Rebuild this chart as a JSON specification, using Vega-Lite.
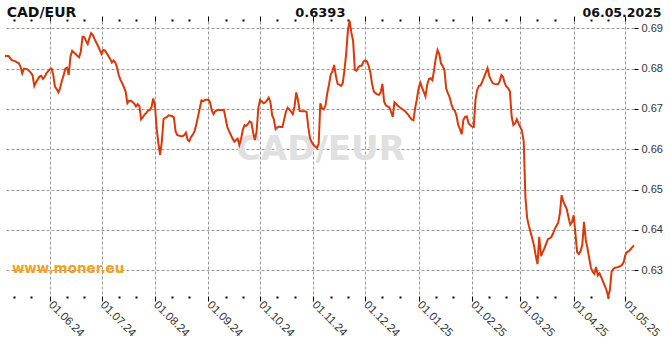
{
  "$schema": "https://vega.github.io/schema/vega-lite/v6.json",
  "width": 629,
  "height": 275,
  "autosize": {"type": "none"},
  "padding": {"left": 5, "top": 21, "right": 36, "bottom": 54},
  "background": "white",
  "config": {"view": {"stroke": null}, "font": "Liberation Sans"},
  "datasets": {
    "rates": [
      {"date": "2024-05-06", "rate": 0.6831}, {"date": "2024-05-08", "rate": 0.6831}, {"date": "2024-05-10", "rate": 0.6821}, {"date": "2024-05-12", "rate": 0.6818}, {"date": "2024-05-14", "rate": 0.6813}, {"date": "2024-05-15", "rate": 0.6805}, {"date": "2024-05-16", "rate": 0.6788}, {"date": "2024-05-17", "rate": 0.6800}, {"date": "2024-05-19", "rate": 0.6798}, {"date": "2024-05-21", "rate": 0.6790}, {"date": "2024-05-22", "rate": 0.6783}, {"date": "2024-05-23", "rate": 0.6757}, {"date": "2024-05-24", "rate": 0.6766}, {"date": "2024-05-26", "rate": 0.6780}, {"date": "2024-05-27", "rate": 0.6782}, {"date": "2024-05-28", "rate": 0.6774}, {"date": "2024-05-29", "rate": 0.6779}, {"date": "2024-05-30", "rate": 0.6788}, {"date": "2024-05-31", "rate": 0.6793},
      {"date": "2024-06-01", "rate": 0.6798}, {"date": "2024-06-02", "rate": 0.6800}, {"date": "2024-06-03", "rate": 0.6784}, {"date": "2024-06-04", "rate": 0.6755}, {"date": "2024-06-05", "rate": 0.6749}, {"date": "2024-06-06", "rate": 0.6741}, {"date": "2024-06-07", "rate": 0.6752}, {"date": "2024-06-08", "rate": 0.6770}, {"date": "2024-06-09", "rate": 0.6783}, {"date": "2024-06-10", "rate": 0.6800}, {"date": "2024-06-11", "rate": 0.6802}, {"date": "2024-06-12", "rate": 0.6784}, {"date": "2024-06-13", "rate": 0.6830}, {"date": "2024-06-14", "rate": 0.6844}, {"date": "2024-06-15", "rate": 0.6840}, {"date": "2024-06-16", "rate": 0.6836}, {"date": "2024-06-17", "rate": 0.6831}, {"date": "2024-06-18", "rate": 0.6828}, {"date": "2024-06-19", "rate": 0.6842}, {"date": "2024-06-20", "rate": 0.6879}, {"date": "2024-06-21", "rate": 0.6878}, {"date": "2024-06-22", "rate": 0.6869}, {"date": "2024-06-23", "rate": 0.6861}, {"date": "2024-06-24", "rate": 0.6876}, {"date": "2024-06-25", "rate": 0.6888}, {"date": "2024-06-26", "rate": 0.6883}, {"date": "2024-06-27", "rate": 0.6873}, {"date": "2024-06-28", "rate": 0.6864}, {"date": "2024-06-29", "rate": 0.6856}, {"date": "2024-06-30", "rate": 0.6846},
      {"date": "2024-07-01", "rate": 0.6836}, {"date": "2024-07-02", "rate": 0.6846}, {"date": "2024-07-03", "rate": 0.6845}, {"date": "2024-07-04", "rate": 0.6838}, {"date": "2024-07-05", "rate": 0.6831}, {"date": "2024-07-06", "rate": 0.6824}, {"date": "2024-07-07", "rate": 0.6815}, {"date": "2024-07-08", "rate": 0.6820}, {"date": "2024-07-09", "rate": 0.6815}, {"date": "2024-07-10", "rate": 0.6803}, {"date": "2024-07-11", "rate": 0.6784}, {"date": "2024-07-12", "rate": 0.6772}, {"date": "2024-07-13", "rate": 0.6764}, {"date": "2024-07-14", "rate": 0.6754}, {"date": "2024-07-15", "rate": 0.6743}, {"date": "2024-07-16", "rate": 0.6714}, {"date": "2024-07-17", "rate": 0.6720}, {"date": "2024-07-18", "rate": 0.6720}, {"date": "2024-07-19", "rate": 0.6717}, {"date": "2024-07-20", "rate": 0.6713}, {"date": "2024-07-21", "rate": 0.6706}, {"date": "2024-07-22", "rate": 0.6712}, {"date": "2024-07-23", "rate": 0.6707}, {"date": "2024-07-24", "rate": 0.6674}, {"date": "2024-07-25", "rate": 0.6679}, {"date": "2024-07-26", "rate": 0.6686}, {"date": "2024-07-27", "rate": 0.6690}, {"date": "2024-07-28", "rate": 0.6696}, {"date": "2024-07-29", "rate": 0.6697}, {"date": "2024-07-30", "rate": 0.6704}, {"date": "2024-07-31", "rate": 0.6726},
      {"date": "2024-08-01", "rate": 0.6710}, {"date": "2024-08-02", "rate": 0.6652}, {"date": "2024-08-03", "rate": 0.6615}, {"date": "2024-08-04", "rate": 0.6586}, {"date": "2024-08-05", "rate": 0.6619}, {"date": "2024-08-06", "rate": 0.6675}, {"date": "2024-08-07", "rate": 0.6678}, {"date": "2024-08-08", "rate": 0.6680}, {"date": "2024-08-09", "rate": 0.6684}, {"date": "2024-08-10", "rate": 0.6683}, {"date": "2024-08-11", "rate": 0.6682}, {"date": "2024-08-12", "rate": 0.6679}, {"date": "2024-08-13", "rate": 0.6644}, {"date": "2024-08-14", "rate": 0.6635}, {"date": "2024-08-15", "rate": 0.6634}, {"date": "2024-08-16", "rate": 0.6632}, {"date": "2024-08-17", "rate": 0.6632}, {"date": "2024-08-18", "rate": 0.6635}, {"date": "2024-08-19", "rate": 0.6641}, {"date": "2024-08-20", "rate": 0.6623}, {"date": "2024-08-21", "rate": 0.6620}, {"date": "2024-08-22", "rate": 0.6631}, {"date": "2024-08-23", "rate": 0.6636}, {"date": "2024-08-24", "rate": 0.6645}, {"date": "2024-08-25", "rate": 0.6661}, {"date": "2024-08-26", "rate": 0.6681}, {"date": "2024-08-27", "rate": 0.6701}, {"date": "2024-08-28", "rate": 0.6721}, {"date": "2024-08-29", "rate": 0.6719}, {"date": "2024-08-30", "rate": 0.6722}, {"date": "2024-08-31", "rate": 0.6723},
      {"date": "2024-09-01", "rate": 0.6723}, {"date": "2024-09-02", "rate": 0.6716}, {"date": "2024-09-03", "rate": 0.6696}, {"date": "2024-09-04", "rate": 0.6687}, {"date": "2024-09-05", "rate": 0.6694}, {"date": "2024-09-06", "rate": 0.6697}, {"date": "2024-09-07", "rate": 0.6698}, {"date": "2024-09-08", "rate": 0.6697}, {"date": "2024-09-09", "rate": 0.6697}, {"date": "2024-09-10", "rate": 0.6698}, {"date": "2024-09-11", "rate": 0.6677}, {"date": "2024-09-12", "rate": 0.6655}, {"date": "2024-09-13", "rate": 0.6645}, {"date": "2024-09-14", "rate": 0.6636}, {"date": "2024-09-15", "rate": 0.6627}, {"date": "2024-09-16", "rate": 0.6619}, {"date": "2024-09-17", "rate": 0.6623}, {"date": "2024-09-18", "rate": 0.6626}, {"date": "2024-09-19", "rate": 0.6611}, {"date": "2024-09-20", "rate": 0.6626}, {"date": "2024-09-21", "rate": 0.6648}, {"date": "2024-09-22", "rate": 0.6660}, {"date": "2024-09-23", "rate": 0.6658}, {"date": "2024-09-24", "rate": 0.6663}, {"date": "2024-09-25", "rate": 0.6669}, {"date": "2024-09-26", "rate": 0.6666}, {"date": "2024-09-27", "rate": 0.6641}, {"date": "2024-09-28", "rate": 0.6623}, {"date": "2024-09-29", "rate": 0.6644}, {"date": "2024-09-30", "rate": 0.6702},
      {"date": "2024-10-01", "rate": 0.6722}, {"date": "2024-10-02", "rate": 0.6719}, {"date": "2024-10-03", "rate": 0.6714}, {"date": "2024-10-04", "rate": 0.6716}, {"date": "2024-10-05", "rate": 0.6721}, {"date": "2024-10-06", "rate": 0.6728}, {"date": "2024-10-07", "rate": 0.6718}, {"date": "2024-10-08", "rate": 0.6685}, {"date": "2024-10-09", "rate": 0.6674}, {"date": "2024-10-10", "rate": 0.6650}, {"date": "2024-10-11", "rate": 0.6654}, {"date": "2024-10-12", "rate": 0.6656}, {"date": "2024-10-13", "rate": 0.6655}, {"date": "2024-10-14", "rate": 0.6655}, {"date": "2024-10-15", "rate": 0.6674}, {"date": "2024-10-16", "rate": 0.6693}, {"date": "2024-10-17", "rate": 0.6703}, {"date": "2024-10-18", "rate": 0.6699}, {"date": "2024-10-19", "rate": 0.6693}, {"date": "2024-10-20", "rate": 0.6687}, {"date": "2024-10-21", "rate": 0.6706}, {"date": "2024-10-22", "rate": 0.6741}, {"date": "2024-10-23", "rate": 0.6722}, {"date": "2024-10-24", "rate": 0.6695}, {"date": "2024-10-25", "rate": 0.6694}, {"date": "2024-10-26", "rate": 0.6694}, {"date": "2024-10-27", "rate": 0.6694}, {"date": "2024-10-28", "rate": 0.6693}, {"date": "2024-10-29", "rate": 0.6655}, {"date": "2024-10-30", "rate": 0.6627}, {"date": "2024-10-31", "rate": 0.6617},
      {"date": "2024-11-01", "rate": 0.6611}, {"date": "2024-11-02", "rate": 0.6607}, {"date": "2024-11-03", "rate": 0.6603}, {"date": "2024-11-04", "rate": 0.6613}, {"date": "2024-11-05", "rate": 0.6714}, {"date": "2024-11-06", "rate": 0.6701}, {"date": "2024-11-07", "rate": 0.6699}, {"date": "2024-11-08", "rate": 0.6709}, {"date": "2024-11-09", "rate": 0.6739}, {"date": "2024-11-10", "rate": 0.6760}, {"date": "2024-11-11", "rate": 0.6785}, {"date": "2024-11-12", "rate": 0.6793}, {"date": "2024-11-13", "rate": 0.6809}, {"date": "2024-11-14", "rate": 0.6782}, {"date": "2024-11-15", "rate": 0.6762}, {"date": "2024-11-16", "rate": 0.6760}, {"date": "2024-11-17", "rate": 0.6757}, {"date": "2024-11-18", "rate": 0.6764}, {"date": "2024-11-19", "rate": 0.6797}, {"date": "2024-11-20", "rate": 0.6838}, {"date": "2024-11-21", "rate": 0.6896}, {"date": "2024-11-22", "rate": 0.6918}, {"date": "2024-11-23", "rate": 0.6889}, {"date": "2024-11-24", "rate": 0.6869}, {"date": "2024-11-25", "rate": 0.6797}, {"date": "2024-11-26", "rate": 0.6795}, {"date": "2024-11-27", "rate": 0.6803}, {"date": "2024-11-28", "rate": 0.6807}, {"date": "2024-11-29", "rate": 0.6807}, {"date": "2024-11-30", "rate": 0.6817},
      {"date": "2024-12-01", "rate": 0.6820}, {"date": "2024-12-02", "rate": 0.6818}, {"date": "2024-12-03", "rate": 0.6807}, {"date": "2024-12-04", "rate": 0.6791}, {"date": "2024-12-05", "rate": 0.6762}, {"date": "2024-12-06", "rate": 0.6743}, {"date": "2024-12-07", "rate": 0.6739}, {"date": "2024-12-08", "rate": 0.6736}, {"date": "2024-12-09", "rate": 0.6735}, {"date": "2024-12-10", "rate": 0.6741}, {"date": "2024-12-11", "rate": 0.6762}, {"date": "2024-12-12", "rate": 0.6718}, {"date": "2024-12-13", "rate": 0.6709}, {"date": "2024-12-14", "rate": 0.6706}, {"date": "2024-12-15", "rate": 0.6704}, {"date": "2024-12-16", "rate": 0.6693}, {"date": "2024-12-17", "rate": 0.6680}, {"date": "2024-12-18", "rate": 0.6716}, {"date": "2024-12-19", "rate": 0.6712}, {"date": "2024-12-20", "rate": 0.6708}, {"date": "2024-12-21", "rate": 0.6704}, {"date": "2024-12-22", "rate": 0.6701}, {"date": "2024-12-23", "rate": 0.6698}, {"date": "2024-12-24", "rate": 0.6695}, {"date": "2024-12-25", "rate": 0.6690}, {"date": "2024-12-26", "rate": 0.6685}, {"date": "2024-12-27", "rate": 0.6679}, {"date": "2024-12-28", "rate": 0.6674}, {"date": "2024-12-29", "rate": 0.6672}, {"date": "2024-12-30", "rate": 0.6702}, {"date": "2024-12-31", "rate": 0.6724},
      {"date": "2025-01-01", "rate": 0.6751}, {"date": "2025-01-02", "rate": 0.6765}, {"date": "2025-01-03", "rate": 0.6753}, {"date": "2025-01-04", "rate": 0.6742}, {"date": "2025-01-05", "rate": 0.6731}, {"date": "2025-01-06", "rate": 0.6760}, {"date": "2025-01-07", "rate": 0.6774}, {"date": "2025-01-08", "rate": 0.6776}, {"date": "2025-01-09", "rate": 0.6771}, {"date": "2025-01-10", "rate": 0.6797}, {"date": "2025-01-11", "rate": 0.6826}, {"date": "2025-01-12", "rate": 0.6846}, {"date": "2025-01-13", "rate": 0.6836}, {"date": "2025-01-14", "rate": 0.6813}, {"date": "2025-01-15", "rate": 0.6806}, {"date": "2025-01-16", "rate": 0.6797}, {"date": "2025-01-17", "rate": 0.6751}, {"date": "2025-01-18", "rate": 0.6739}, {"date": "2025-01-19", "rate": 0.6729}, {"date": "2025-01-20", "rate": 0.6712}, {"date": "2025-01-21", "rate": 0.6700}, {"date": "2025-01-22", "rate": 0.6696}, {"date": "2025-01-23", "rate": 0.6683}, {"date": "2025-01-24", "rate": 0.6660}, {"date": "2025-01-25", "rate": 0.6650}, {"date": "2025-01-26", "rate": 0.6637}, {"date": "2025-01-27", "rate": 0.6673}, {"date": "2025-01-28", "rate": 0.6680}, {"date": "2025-01-29", "rate": 0.6681}, {"date": "2025-01-30", "rate": 0.6664}, {"date": "2025-01-31", "rate": 0.6660},
      {"date": "2025-02-01", "rate": 0.6656}, {"date": "2025-02-02", "rate": 0.6655}, {"date": "2025-02-03", "rate": 0.6722}, {"date": "2025-02-04", "rate": 0.6747}, {"date": "2025-02-05", "rate": 0.6757}, {"date": "2025-02-06", "rate": 0.6758}, {"date": "2025-02-07", "rate": 0.6768}, {"date": "2025-02-08", "rate": 0.6779}, {"date": "2025-02-09", "rate": 0.6790}, {"date": "2025-02-10", "rate": 0.6801}, {"date": "2025-02-11", "rate": 0.6782}, {"date": "2025-02-12", "rate": 0.6772}, {"date": "2025-02-13", "rate": 0.6764}, {"date": "2025-02-14", "rate": 0.6762}, {"date": "2025-02-15", "rate": 0.6761}, {"date": "2025-02-16", "rate": 0.6761}, {"date": "2025-02-17", "rate": 0.6768}, {"date": "2025-02-18", "rate": 0.6784}, {"date": "2025-02-19", "rate": 0.6779}, {"date": "2025-02-20", "rate": 0.6764}, {"date": "2025-02-21", "rate": 0.6755}, {"date": "2025-02-22", "rate": 0.6751}, {"date": "2025-02-23", "rate": 0.6743}, {"date": "2025-02-24", "rate": 0.6681}, {"date": "2025-02-25", "rate": 0.6660}, {"date": "2025-02-26", "rate": 0.6664}, {"date": "2025-02-27", "rate": 0.6674}, {"date": "2025-02-28", "rate": 0.6664},
      {"date": "2025-03-01", "rate": 0.6655}, {"date": "2025-03-02", "rate": 0.6646}, {"date": "2025-03-03", "rate": 0.6619}, {"date": "2025-03-04", "rate": 0.6480}, {"date": "2025-03-05", "rate": 0.6429}, {"date": "2025-03-06", "rate": 0.6410}, {"date": "2025-03-07", "rate": 0.6394}, {"date": "2025-03-08", "rate": 0.6378}, {"date": "2025-03-09", "rate": 0.6361}, {"date": "2025-03-10", "rate": 0.6335}, {"date": "2025-03-11", "rate": 0.6315}, {"date": "2025-03-12", "rate": 0.6383}, {"date": "2025-03-13", "rate": 0.6335}, {"date": "2025-03-14", "rate": 0.6345}, {"date": "2025-03-15", "rate": 0.6354}, {"date": "2025-03-16", "rate": 0.6365}, {"date": "2025-03-17", "rate": 0.6377}, {"date": "2025-03-18", "rate": 0.6379}, {"date": "2025-03-19", "rate": 0.6382}, {"date": "2025-03-20", "rate": 0.6391}, {"date": "2025-03-21", "rate": 0.6402}, {"date": "2025-03-22", "rate": 0.6410}, {"date": "2025-03-23", "rate": 0.6418}, {"date": "2025-03-24", "rate": 0.6441}, {"date": "2025-03-25", "rate": 0.6486}, {"date": "2025-03-26", "rate": 0.6470}, {"date": "2025-03-27", "rate": 0.6461}, {"date": "2025-03-28", "rate": 0.6451}, {"date": "2025-03-29", "rate": 0.6431}, {"date": "2025-03-30", "rate": 0.6413}, {"date": "2025-03-31", "rate": 0.6419},
      {"date": "2025-04-01", "rate": 0.6436}, {"date": "2025-04-02", "rate": 0.6391}, {"date": "2025-04-03", "rate": 0.6345}, {"date": "2025-04-04", "rate": 0.6340}, {"date": "2025-04-05", "rate": 0.6347}, {"date": "2025-04-06", "rate": 0.6363}, {"date": "2025-04-07", "rate": 0.6420}, {"date": "2025-04-08", "rate": 0.6375}, {"date": "2025-04-09", "rate": 0.6354}, {"date": "2025-04-10", "rate": 0.6330}, {"date": "2025-04-11", "rate": 0.6306}, {"date": "2025-04-12", "rate": 0.6296}, {"date": "2025-04-13", "rate": 0.6291}, {"date": "2025-04-14", "rate": 0.6308}, {"date": "2025-04-15", "rate": 0.6287}, {"date": "2025-04-16", "rate": 0.6292}, {"date": "2025-04-17", "rate": 0.6283}, {"date": "2025-04-18", "rate": 0.6272}, {"date": "2025-04-19", "rate": 0.6262}, {"date": "2025-04-20", "rate": 0.6251}, {"date": "2025-04-21", "rate": 0.6235}, {"date": "2025-04-22", "rate": 0.6251}, {"date": "2025-04-23", "rate": 0.6297}, {"date": "2025-04-24", "rate": 0.6303}, {"date": "2025-04-25", "rate": 0.6306}, {"date": "2025-04-26", "rate": 0.6307}, {"date": "2025-04-27", "rate": 0.6308}, {"date": "2025-04-28", "rate": 0.6310}, {"date": "2025-04-29", "rate": 0.6313}, {"date": "2025-04-30", "rate": 0.6320},
      {"date": "2025-05-01", "rate": 0.6338}, {"date": "2025-05-02", "rate": 0.6345}, {"date": "2025-05-03", "rate": 0.6347}, {"date": "2025-05-04", "rate": 0.6352}, {"date": "2025-05-05", "rate": 0.6357}, {"date": "2025-05-06", "rate": 0.6361}
    ],
    "watermark": [{"date": "2024-11-05", "rate": 0.6597, "label": "CAD/EUR"}],
    "titleLeft": [{"date": "2024-05-07", "rate": 0.6928, "label": "CAD/EUR"}],
    "titleCenter": [{"date": "2024-11-05", "rate": 0.6928, "label": "0.6393"}],
    "titleRight": [{"date": "2025-05-22", "rate": 0.6928, "label": "06.05.2025"}],
    "site": [{"date": "2024-05-10", "rate": 0.6293, "label": "www.moner.eu"}]
  },
  "layer": [
    {
      "data": {"name": "watermark"},
      "mark": {"type": "text", "font": "DejaVu Sans", "fontWeight": "bold", "fontSize": 34, "color": "#e0e0e0", "align": "center", "baseline": "middle"},
      "encoding": {
        "x": {"field": "date", "type": "temporal",
          "scale": {"type": "utc", "domain": [{"year": 2024, "month": 5, "date": 6, "utc": true}, {"year": 2025, "month": 5, "date": 6, "utc": true}]},
          "axis": {"orient": "top", "title": null, "labels": false, "domain": false, "grid": false,
            "values": [{"year": 2024, "month": 5, "date": 11, "utc": true}, {"year": 2024, "month": 5, "date": 21, "utc": true},
              {"year": 2024, "month": 6, "date": 1, "utc": true}, {"year": 2024, "month": 6, "date": 11, "utc": true}, {"year": 2024, "month": 6, "date": 21, "utc": true},
              {"year": 2024, "month": 7, "date": 1, "utc": true}, {"year": 2024, "month": 7, "date": 11, "utc": true}, {"year": 2024, "month": 7, "date": 21, "utc": true},
              {"year": 2024, "month": 8, "date": 1, "utc": true}, {"year": 2024, "month": 8, "date": 11, "utc": true}, {"year": 2024, "month": 8, "date": 21, "utc": true},
              {"year": 2024, "month": 9, "date": 1, "utc": true}, {"year": 2024, "month": 9, "date": 11, "utc": true}, {"year": 2024, "month": 9, "date": 21, "utc": true},
              {"year": 2024, "month": 10, "date": 1, "utc": true}, {"year": 2024, "month": 10, "date": 11, "utc": true}, {"year": 2024, "month": 10, "date": 21, "utc": true},
              {"year": 2024, "month": 11, "date": 1, "utc": true}, {"year": 2024, "month": 11, "date": 11, "utc": true}, {"year": 2024, "month": 11, "date": 21, "utc": true},
              {"year": 2024, "month": 12, "date": 1, "utc": true}, {"year": 2024, "month": 12, "date": 11, "utc": true}, {"year": 2024, "month": 12, "date": 21, "utc": true},
              {"year": 2025, "month": 1, "date": 1, "utc": true}, {"year": 2025, "month": 1, "date": 11, "utc": true}, {"year": 2025, "month": 1, "date": 21, "utc": true},
              {"year": 2025, "month": 2, "date": 1, "utc": true}, {"year": 2025, "month": 2, "date": 11, "utc": true}, {"year": 2025, "month": 2, "date": 21, "utc": true},
              {"year": 2025, "month": 3, "date": 1, "utc": true}, {"year": 2025, "month": 3, "date": 11, "utc": true}, {"year": 2025, "month": 3, "date": 21, "utc": true},
              {"year": 2025, "month": 4, "date": 1, "utc": true}, {"year": 2025, "month": 4, "date": 11, "utc": true}, {"year": 2025, "month": 4, "date": 21, "utc": true},
              {"year": 2025, "month": 5, "date": 1, "utc": true}],
            "tickColor": "#000",
            "tickSize": {"condition": {"test": "utcdate(datum.value) == 1", "value": 5}, "value": 2},
            "tickWidth": {"condition": {"test": "utcdate(datum.value) == 1", "value": 1}, "value": 2}
          }
        },
        "y": {"field": "rate", "type": "quantitative", "scale": {"domain": [0.6236, 0.6918], "zero": false, "nice": false}},
        "text": {"field": "label"}
      }
    },
    {
      "data": {"name": "rates"},
      "mark": {"type": "line", "color": "#d9380a", "strokeWidth": 2},
      "encoding": {
        "x": {"field": "date", "type": "temporal",
          "scale": {"type": "utc", "domain": [{"year": 2024, "month": 5, "date": 6, "utc": true}, {"year": 2025, "month": 5, "date": 6, "utc": true}]},
          "axis": {"orient": "bottom", "title": null, "domain": false,
            "values": [{"year": 2024, "month": 5, "date": 11, "utc": true}, {"year": 2024, "month": 5, "date": 21, "utc": true},
              {"year": 2024, "month": 6, "date": 1, "utc": true}, {"year": 2024, "month": 6, "date": 11, "utc": true}, {"year": 2024, "month": 6, "date": 21, "utc": true},
              {"year": 2024, "month": 7, "date": 1, "utc": true}, {"year": 2024, "month": 7, "date": 11, "utc": true}, {"year": 2024, "month": 7, "date": 21, "utc": true},
              {"year": 2024, "month": 8, "date": 1, "utc": true}, {"year": 2024, "month": 8, "date": 11, "utc": true}, {"year": 2024, "month": 8, "date": 21, "utc": true},
              {"year": 2024, "month": 9, "date": 1, "utc": true}, {"year": 2024, "month": 9, "date": 11, "utc": true}, {"year": 2024, "month": 9, "date": 21, "utc": true},
              {"year": 2024, "month": 10, "date": 1, "utc": true}, {"year": 2024, "month": 10, "date": 11, "utc": true}, {"year": 2024, "month": 10, "date": 21, "utc": true},
              {"year": 2024, "month": 11, "date": 1, "utc": true}, {"year": 2024, "month": 11, "date": 11, "utc": true}, {"year": 2024, "month": 11, "date": 21, "utc": true},
              {"year": 2024, "month": 12, "date": 1, "utc": true}, {"year": 2024, "month": 12, "date": 11, "utc": true}, {"year": 2024, "month": 12, "date": 21, "utc": true},
              {"year": 2025, "month": 1, "date": 1, "utc": true}, {"year": 2025, "month": 1, "date": 11, "utc": true}, {"year": 2025, "month": 1, "date": 21, "utc": true},
              {"year": 2025, "month": 2, "date": 1, "utc": true}, {"year": 2025, "month": 2, "date": 11, "utc": true}, {"year": 2025, "month": 2, "date": 21, "utc": true},
              {"year": 2025, "month": 3, "date": 1, "utc": true}, {"year": 2025, "month": 3, "date": 11, "utc": true}, {"year": 2025, "month": 3, "date": 21, "utc": true},
              {"year": 2025, "month": 4, "date": 1, "utc": true}, {"year": 2025, "month": 4, "date": 11, "utc": true}, {"year": 2025, "month": 4, "date": 21, "utc": true},
              {"year": 2025, "month": 5, "date": 1, "utc": true}],
            "labelExpr": "utcdate(datum.value) == 1 ? utcFormat(datum.value, '%d.%m.%y') : ''",
            "labelAngle": 45, "labelAlign": "left", "labelBaseline": "middle", "labelPadding": 2,
            "labelFont": "Liberation Sans", "labelFontSize": 11.5, "labelColor": "#333",
            "labelOverlap": false, "labelFlush": false, "labelBound": false,
            "tickColor": "#000",
            "tickSize": {"condition": {"test": "utcdate(datum.value) == 1", "value": 5}, "value": 2},
            "tickWidth": {"condition": {"test": "utcdate(datum.value) == 1", "value": 1}, "value": 2},
            "grid": true, "gridColor": "#999", "gridDash": [3, 2], "gridWidth": 1,
            "gridOpacity": {"condition": {"test": "utcdate(datum.value) == 1", "value": 1}, "value": 0}
          }
        },
        "y": {"field": "rate", "type": "quantitative",
          "scale": {"domain": [0.6236, 0.6918], "zero": false, "nice": false},
          "axis": {"orient": "right", "title": null, "domain": false, "values": [0.63, 0.64, 0.65, 0.66, 0.67, 0.68, 0.69], "format": ".2f",
            "labelFont": "Liberation Sans", "labelFontSize": 11, "labelColor": "#333", "labelPadding": 3,
            "tickColor": "#000", "tickSize": 4,
            "grid": true, "gridColor": "#999", "gridDash": [3, 2], "gridWidth": 1}
        }
      }
    },
    {
      "data": {"name": "titleLeft"},
      "mark": {"type": "text", "font": "DejaVu Sans", "fontWeight": "bold", "fontSize": 14, "color": "#111", "align": "left", "baseline": "alphabetic"},
      "encoding": {
        "x": {"field": "date", "type": "temporal", "scale": {"type": "utc", "domain": [{"year": 2024, "month": 5, "date": 6, "utc": true}, {"year": 2025, "month": 5, "date": 6, "utc": true}]}, "axis": null},
        "y": {"field": "rate", "type": "quantitative", "scale": {"domain": [0.6236, 0.6918], "zero": false, "nice": false}},
        "text": {"field": "label"}
      }
    },
    {
      "data": {"name": "titleCenter"},
      "mark": {"type": "text", "font": "DejaVu Sans", "fontWeight": "bold", "fontSize": 13, "color": "#111", "align": "center", "baseline": "alphabetic"},
      "encoding": {
        "x": {"field": "date", "type": "temporal", "scale": {"type": "utc", "domain": [{"year": 2024, "month": 5, "date": 6, "utc": true}, {"year": 2025, "month": 5, "date": 6, "utc": true}]}, "axis": null},
        "y": {"field": "rate", "type": "quantitative", "scale": {"domain": [0.6236, 0.6918], "zero": false, "nice": false}},
        "text": {"field": "label"}
      }
    },
    {
      "data": {"name": "titleRight"},
      "mark": {"type": "text", "font": "DejaVu Sans", "fontWeight": "bold", "fontSize": 12.5, "color": "#111", "align": "right", "baseline": "alphabetic"},
      "encoding": {
        "x": {"field": "date", "type": "temporal", "scale": {"type": "utc", "domain": [{"year": 2024, "month": 5, "date": 6, "utc": true}, {"year": 2025, "month": 5, "date": 6, "utc": true}]}, "axis": null},
        "y": {"field": "rate", "type": "quantitative", "scale": {"domain": [0.6236, 0.6918], "zero": false, "nice": false}},
        "text": {"field": "label"}
      }
    },
    {
      "data": {"name": "site"},
      "mark": {"type": "text", "font": "DejaVu Sans", "fontWeight": "bold", "fontSize": 13.5, "color": "#f7a01c", "align": "left", "baseline": "alphabetic"},
      "encoding": {
        "x": {"field": "date", "type": "temporal", "scale": {"type": "utc", "domain": [{"year": 2024, "month": 5, "date": 6, "utc": true}, {"year": 2025, "month": 5, "date": 6, "utc": true}]}, "axis": null},
        "y": {"field": "rate", "type": "quantitative", "scale": {"domain": [0.6236, 0.6918], "zero": false, "nice": false}},
        "text": {"field": "label"}
      }
    }
  ],
  "resolve": {"axis": {"x": "independent"}}
}
